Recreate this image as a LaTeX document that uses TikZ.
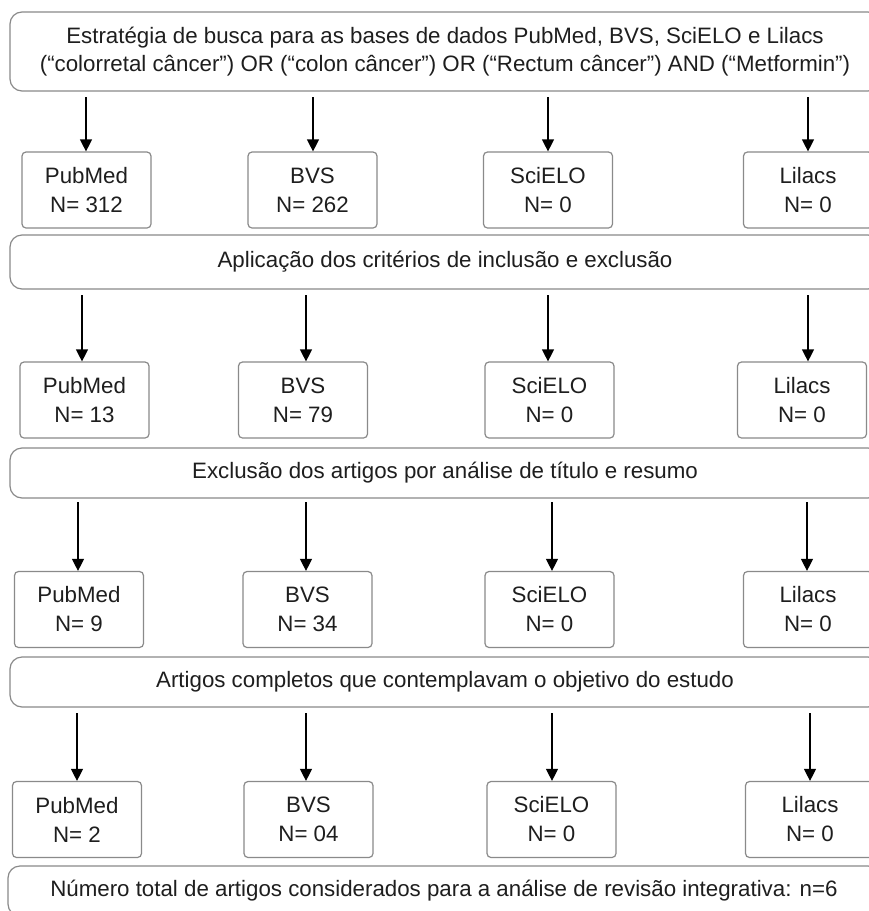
\documentclass[tikz,border=0pt]{standalone}
\usepackage{fontspec}
\setmainfont{Liberation Sans}
\usetikzlibrary{arrows.meta}
\definecolor{boxgray}{HTML}{8A8A8A}
\definecolor{txt}{HTML}{1E1E1E}
\begin{document}
\begin{tikzpicture}[x=1pt,y=-1pt,
  wide/.style={draw=boxgray, line width=1.2pt, rounded corners=12pt, inner sep=0pt,
    minimum width=870pt, align=center, text=txt, font=\fontsize{22.3}{28}\selectfont},
  db/.style={draw=boxgray, line width=1.2pt, rounded corners=4pt, minimum width=129pt,
    minimum height=76pt, inner sep=0pt, align=center, text=txt, font=\fontsize{22.3}{29}\selectfont},
  arr/.style={-{Triangle[length=12pt,width=12pt]}, line width=1.2pt, draw=black}]
\useasboundingbox (0,0) rectangle (869,911);
\clip (0,0) rectangle (869,911);
\fill[white] (0,0) rectangle (869,911);

% wide boxes
\node[wide, minimum height=79pt] (busca) at (445,51.5)
  {Estratégia de busca para as bases de dados PubMed, BVS, SciELO e Lilacs\\(“colorretal câncer") OR (“colon câncer") OR (“Rectum câncer") AND (“Metformin”)};
\node[wide, minimum height=54pt] (aplic) at (445,262) {Aplicação dos critérios de inclusão e exclusão};
\node[wide, minimum height=50pt] (exclu) at (445,473) {Exclusão dos artigos por análise de título e resumo};
\node[wide, minimum height=50pt] (compl) at (445,682) {Artigos completos que contemplavam o objetivo do estudo};
\node[wide, minimum height=50pt, minimum width=872pt] (total) at (444,891) {Número total de artigos considerados para a análise de revisão integrativa: n=6};

% row 1
\node[db] (p1) at (86.5,190) {PubMed\\N= 312};
\node[db] (b1) at (312.5,190) {BVS\\N= 262};
\node[db] (s1) at (548,190) {SciELO\\N= 0};
\node[db] (l1) at (808,190) {Lilacs\\N= 0};
% row 2
\node[db] (p2) at (84.5,400) {PubMed\\N= 13};
\node[db] (b2) at (303,400) {BVS\\N= 79};
\node[db] (s2) at (549.5,400) {SciELO\\N= 0};
\node[db] (l2) at (802,400) {Lilacs\\N= 0};
% row 3
\node[db] (p3) at (79,609.5) {PubMed\\N= 9};
\node[db] (b3) at (307.5,609.5) {BVS\\N= 34};
\node[db] (s3) at (549.5,609.5) {SciELO\\N= 0};
\node[db] (l3) at (808,609.5) {Lilacs\\N= 0};
% row 4
\node[db] (p4) at (77,819.5) {PubMed\\N= 2};
\node[db] (b4) at (308.5,819.5) {BVS\\N= 04};
\node[db] (s4) at (551.5,819.5) {SciELO\\N= 0};
\node[db] (l4) at (810,819.5) {Lilacs\\N= 0};

% arrow start points
\coordinate (ap1) at (86,97);  \coordinate (ab1) at (313,97);
\coordinate (as1) at (548,97); \coordinate (al1) at (808,97);
\coordinate (ap2) at (82,295);  \coordinate (ab2) at (306,295);
\coordinate (as2) at (548,295); \coordinate (al2) at (808,295);
\coordinate (ap3) at (78,502);  \coordinate (ab3) at (306,502);
\coordinate (as3) at (552,502); \coordinate (al3) at (807,502);
\coordinate (ap4) at (77,713);  \coordinate (ab4) at (306,713);
\coordinate (as4) at (552,713); \coordinate (al4) at (810,713);

\foreach \r in {1,2,3,4}{
  \draw[arr] (ap\r) -- (ap\r |- p\r.north);
  \draw[arr] (ab\r) -- (ab\r |- b\r.north);
  \draw[arr] (as\r) -- (as\r |- s\r.north);
  \draw[arr] (al\r) -- (al\r |- l\r.north);
}
\end{tikzpicture}
\end{document}
